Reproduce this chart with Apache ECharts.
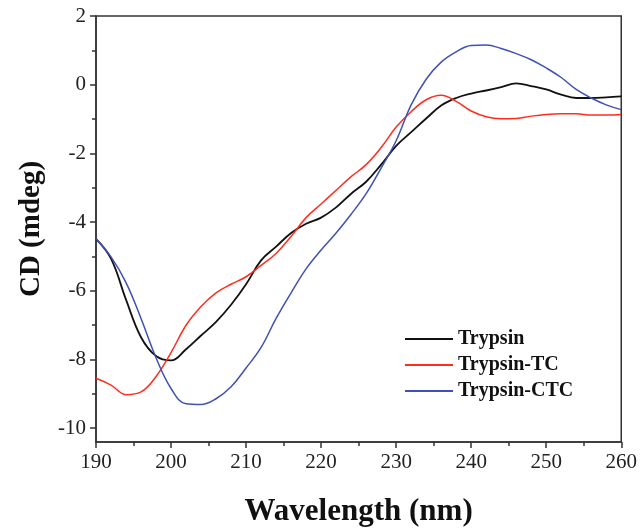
<!DOCTYPE html>
<html>
<head>
<meta charset="utf-8">
<script src="https://cdn.jsdelivr.net/npm/echarts@6/dist/echarts.min.js"></script>
<style>
    html, body { margin: 0; padding: 0; background: #fff; }
    #chart { width: 640px; height: 532px; }
</style>
</head>
<body>
<div id="chart"></div>
<script>
    // wavelength (nm), every 2 nm
    var wavelength = [190, 192, 194, 196, 198, 200, 202, 204, 206, 208, 210, 212, 214, 216, 218, 220, 222, 224,
        226, 228, 230, 232, 234, 236, 238, 240, 242, 244, 246, 248, 250, 252, 254, 256, 258, 260];

    var trypsin = [-4.52, -5.1, -6.3, -7.4, -7.95, -8.08, -7.75, -7.35, -6.95, -6.45, -5.85, -5.15, -4.75, -4.35,
        -4.08, -3.9, -3.6, -3.2, -2.85, -2.35, -1.8, -1.4, -1.0, -0.62, -0.4, -0.27, -0.18, -0.08, 0.03, -0.05,
        -0.15, -0.3, -0.4, -0.4, -0.38, -0.35];

    var trypsinTC = [-8.6, -8.8, -9.08, -9.0, -8.55, -7.85, -7.05, -6.5, -6.1, -5.85, -5.63, -5.3, -4.95, -4.45,
        -3.9, -3.5, -3.1, -2.7, -2.35, -1.85, -1.25, -0.8, -0.45, -0.32, -0.5, -0.78, -0.95, -1.01, -1.0, -0.93,
        -0.88, -0.86, -0.86, -0.9, -0.9, -0.88];

    var trypsinCTC = [-4.52, -5.05, -5.8, -6.85, -8.0, -8.9, -9.35, -9.37, -9.2, -8.85, -8.3, -7.7, -6.85, -6.1,
        -5.4, -4.85, -4.35, -3.8, -3.2, -2.45, -1.65, -0.6, 0.15, 0.65, 0.95, 1.14, 1.15, 1.05, 0.9, 0.72,
        0.48, 0.2, -0.15, -0.4, -0.6, -0.74];

    var seriesNames = ['Trypsin', 'Trypsin-TC', 'Trypsin-CTC'];
    var seriesColors = ['#111111', '#ff2d1f', '#3f51b5'];

    function pairs(ys) {
        return wavelength.map(function (x, i) { return [x, ys[i]]; });
    }

    var font = 'Liberation Serif';
    var axisColor = '#333';

    var chart = echarts.init(document.getElementById('chart'));

    var option = {
        backgroundColor: '#fff',
        animation: false,
        legend: {
            left: 400,
            top: 324,
            orient: 'vertical',
            icon: 'rect',
            itemWidth: 48,
            itemHeight: 2,
            itemGap: 6,
            data: seriesNames,
            textStyle: {
                fontFamily: font,
                fontWeight: 'bold',
                fontSize: 20,
                lineHeight: 20,
                color: '#111'
            }
        },
        grid: [
            {   // plotting box
                left: 96, right: 17, top: 16, bottom: 88,
                show: true, borderColor: axisColor, borderWidth: 1.5
            },
            {   // tick / label grid from -10 to 2
                left: 96, right: 17, top: 16, bottom: 104
            }
        ],
        xAxis: [
            {
                gridIndex: 0,
                type: 'value',
                min: 190, max: 260, interval: 10,
                name: 'Wavelength (nm)',
                nameLocation: 'middle',
                nameGap: 54,
                nameTextStyle: { fontFamily: font, fontWeight: 'bold', fontSize: 31, color: '#111' },
                axisLine: { onZero: false, lineStyle: { color: axisColor, width: 1.5 } },
                axisTick: { show: true, inside: false, length: 6, lineStyle: { color: axisColor, width: 1.5 } },
                minorTick: { show: true, splitNumber: 2, length: 4, lineStyle: { color: axisColor, width: 1.5 } },
                axisLabel: { fontFamily: font, fontSize: 21, color: '#222', margin: 10 },
                splitLine: { show: false }
            },
            {
                gridIndex: 1,
                type: 'value',
                min: 190, max: 260,
                show: false
            }
        ],
        yAxis: [
            {
                gridIndex: 0,
                type: 'value',
                min: -10.466, max: 2,
                name: 'CD (mdeg)',
                nameLocation: 'middle',
                nameGap: 50,
                nameTextStyle: { fontFamily: font, fontWeight: 'bold', fontSize: 29, color: '#111' },
                axisLine: { show: true, onZero: false, lineStyle: { color: axisColor, width: 1.5 } },
                axisTick: { show: false },
                axisLabel: { show: false },
                splitLine: { show: false }
            },
            {
                gridIndex: 1,
                type: 'value',
                min: -10, max: 2, interval: 2,
                axisLine: { show: false },
                axisTick: { show: true, inside: false, length: 6, lineStyle: { color: axisColor, width: 1.5 } },
                minorTick: { show: true, splitNumber: 2, length: 4, lineStyle: { color: axisColor, width: 1.5 } },
                axisLabel: { fontFamily: font, fontSize: 21, color: '#222', margin: 10 },
                splitLine: { show: false }
            }
        ],
        series: [
            {
                name: seriesNames[0],
                type: 'line',
                xAxisIndex: 0, yAxisIndex: 0,
                symbol: 'none',
                smooth: 0.4,
                lineStyle: { color: seriesColors[0], width: 1.8 },
                itemStyle: { color: seriesColors[0] },
                data: pairs(trypsin)
            },
            {
                name: seriesNames[1],
                type: 'line',
                xAxisIndex: 0, yAxisIndex: 0,
                symbol: 'none',
                smooth: 0.4,
                lineStyle: { color: seriesColors[1], width: 1.5 },
                itemStyle: { color: seriesColors[1] },
                data: pairs(trypsinTC)
            },
            {
                name: seriesNames[2],
                type: 'line',
                xAxisIndex: 0, yAxisIndex: 0,
                symbol: 'none',
                smooth: 0.4,
                lineStyle: { color: seriesColors[2], width: 1.5 },
                itemStyle: { color: seriesColors[2] },
                data: pairs(trypsinCTC)
            }
        ]
    };

    chart.setOption(option);
</script>
</body>
</html>
